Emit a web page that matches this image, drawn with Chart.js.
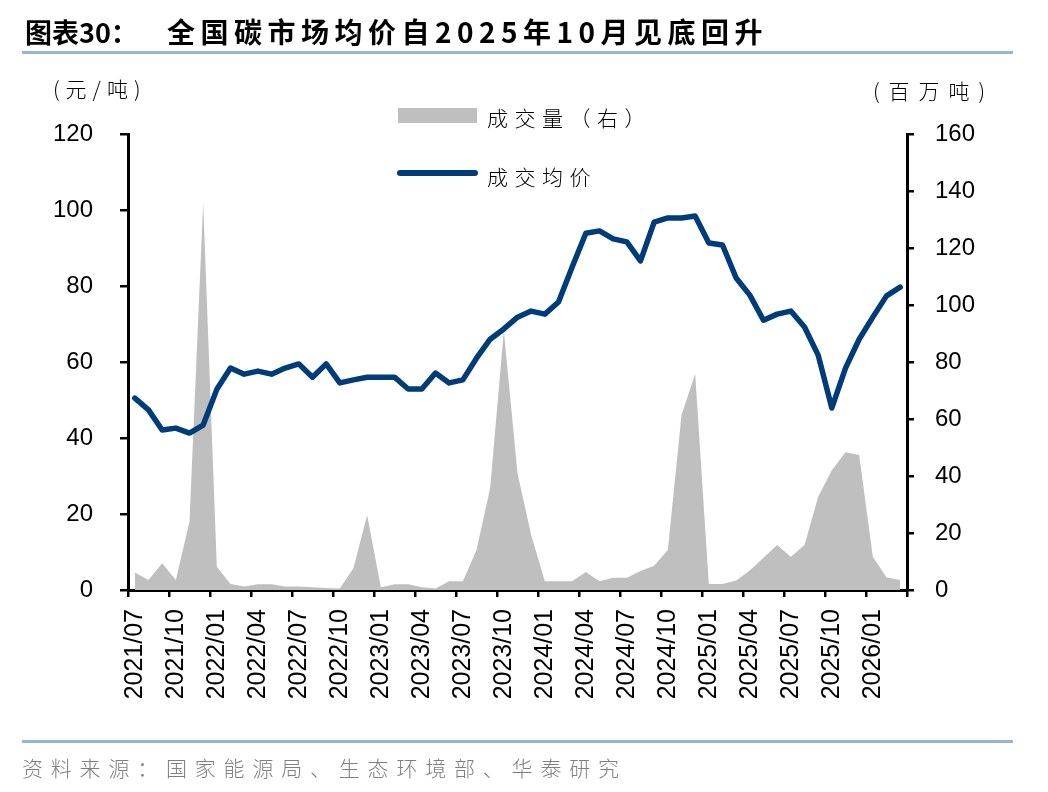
<!DOCTYPE html>
<html>
<head>
<meta charset="utf-8">
<script src="https://cdn.jsdelivr.net/npm/chart.js@4.4.1/dist/chart.umd.min.js"></script>
<style>
  body { margin: 0; background: #fff; }
  #wrap { position: relative; width: 1048px; height: 792px; overflow: hidden;
          font-family: "Noto Sans CJK SC", "Noto Sans", sans-serif; color: #000; }
  canvas { position: absolute; left: 0; top: 0; }
  .t { position: absolute; white-space: nowrap; transform: translateY(-50%); line-height: 1; }
  .rule { position: absolute; left: 22px; width: 991px; height: 3px; background: #98B4D4; }
</style>
</head>
<body>
<div id="wrap">
  <canvas id="myChart" width="1048" height="792"></canvas>

  <div class="t" style="left:25px; top:31px; font-size:27px; font-weight:700;">图表30：</div>
  <div class="t" style="left:167px; top:31px; font-size:28px; font-weight:700; letter-spacing:5.5px;">全国碳市场均价自2025年10月见底回升</div>
  <div class="rule" style="top:51px;"></div>

  <div class="t" style="left:53px; top:88px; font-size:21px; font-weight:300; letter-spacing:6px;">(元/吨)</div>
  <div class="t" style="left:873px; top:90px; font-size:21px; font-weight:300; letter-spacing:9px;">(百万吨)</div>

  <div style="position:absolute; left:398px; top:108px; width:79px; height:15px; background:#BFBFBF;"></div>
  <div class="t" style="left:487px; top:117px; font-size:21px; font-weight:300; letter-spacing:6.5px;">成交量（右）</div>
  <div style="position:absolute; left:397px; top:170px; width:81px; height:6px; border-radius:3px; background:#003B7A;"></div>
  <div class="t" style="left:487px; top:176px; font-size:21px; font-weight:300; letter-spacing:6.5px;">成交均价</div>

  <div class="rule" style="top:740px;"></div>
  <div class="t" style="left:22px; top:767px; font-size:21px; font-weight:300; letter-spacing:7.8px; color:#7F7F7F;">资料来源：国家能源局、生态环境部、华泰研究</div>
</div>

<script>
const months = [
  '2021/07','2021/08','2021/09','2021/10','2021/11','2021/12',
  '2022/01','2022/02','2022/03','2022/04','2022/05','2022/06',
  '2022/07','2022/08','2022/09','2022/10','2022/11','2022/12',
  '2023/01','2023/02','2023/03','2023/04','2023/05','2023/06',
  '2023/07','2023/08','2023/09','2023/10','2023/11','2023/12',
  '2024/01','2024/02','2024/03','2024/04','2024/05','2024/06',
  '2024/07','2024/08','2024/09','2024/10','2024/11','2024/12',
  '2025/01','2025/02','2025/03','2025/04','2025/05','2025/06',
  '2025/07','2025/08','2025/09','2025/10','2025/11','2025/12',
  '2026/01','2026/02','2026/03'
];

// 成交均价 (元/吨), left axis
const avgPrice = [
  50.5, 47.4, 42.1, 42.6, 41.3, 43.4,
  52.8, 58.4, 56.8, 57.6, 56.8, 58.4,
  59.5, 56.0, 59.5, 54.5, 55.3, 56.0,
  56.0, 56.0, 52.9, 52.9, 57.1, 54.5,
  55.3, 61.0, 66.0, 68.7, 71.8, 73.4,
  72.6, 75.8, 85.0, 93.9, 94.5, 92.4,
  91.6, 86.6, 96.8, 97.9, 97.9, 98.4,
  91.3, 90.8, 82.1, 77.6, 71.0, 72.6,
  73.4, 69.2, 61.8, 47.9, 58.4, 66.0,
  71.8, 77.4, 79.7
];

// 成交量 (百万吨), right axis
const volume = [
  6.1, 3.5, 9.4, 3.5, 24, 136,
  8.2, 2.1, 1.2, 2.0, 2.0, 1.2,
  1.2, 1.0, 0.7, 0.5, 7.7, 26.3,
  1.0, 2.0, 2.0, 1.0, 0.5, 3.1,
  3.1, 14, 35.8, 91, 41, 19.3,
  3.1, 3.1, 3.1, 6.3, 3.1, 4.3,
  4.3, 6.7, 8.5, 14, 61.4, 75.8,
  2.1, 2.1, 3.3, 6.8, 11.3, 15.8,
  11.7, 15.8, 32.7, 42, 48.3, 47.4,
  11.7, 4.4, 3.5
];

const leftTicks = [0, 20, 40, 60, 80, 100, 120];
const rightTicks = [0, 20, 40, 60, 80, 100, 120, 140, 160];

const tickFont = { family: '"Liberation Sans", Arial, sans-serif', size: 24 };
const axisColor = '#000';

const chartCtx = document.getElementById('myChart').getContext('2d');

const myChart = new Chart(chartCtx, {
  type: 'line',
  data: {
    labels: months,
    datasets: [
      {
        label: '成交均价',
        data: avgPrice,
        yAxisID: 'y',
        borderColor: '#003B7A',
        borderWidth: 5.5,
        borderCapStyle: 'round',
        borderJoinStyle: 'round',
        pointRadius: 0,
        tension: 0,
        fill: false
      },
      {
        label: '成交量（右）',
        data: volume,
        yAxisID: 'y1',
        borderColor: 'rgba(0,0,0,0)',
        borderWidth: 0,
        backgroundColor: '#BFBFBF',
        pointRadius: 0,
        tension: 0,
        fill: 'origin'
      }
    ]
  },
  options: {
    responsive: false,
    animation: false,
    layout: { padding: { top: 134, left: 0, right: 0, bottom: 0 } },
    plugins: {
      legend: { display: false },
      tooltip: { enabled: false }
    },
    scales: {
      x: {
        z: 1,
        offset: true,
        afterFit: function(scale) { scale.height = 202; },
        grid: {
          offset: true,
          drawOnChartArea: false,
          tickLength: 7,
          lineWidth: 2.5,
          color: function(ctx) {
            if (ctx.index === undefined) return axisColor;
            return ctx.index % 3 === 0 ? axisColor : 'rgba(0,0,0,0)';
          }
        },
        border: { display: true, color: axisColor, width: 3 },
        ticks: {
          autoSkip: false,
          maxRotation: 90,
          minRotation: 90,
          padding: 12,
          color: '#000',
          font: { family: tickFont.family, size: 25 },
          callback: function(value, index) {
            return index % 3 === 0 ? months[index] : '';
          }
        }
      },
      y: {
        z: 1,
        position: 'left',
        min: 0,
        max: 120,
        afterFit: function(scale) { scale.width = 128; },
        afterBuildTicks: function(scale) {
          scale.ticks = leftTicks.map(v => ({ value: v }));
        },
        grid: { drawOnChartArea: false, tickLength: 8, lineWidth: 2.5, color: axisColor },
        border: { display: true, color: axisColor, width: 3 },
        ticks: { padding: 27, color: '#000', font: tickFont }
      },
      y1: {
        z: 1,
        position: 'right',
        min: 0,
        max: 160,
        afterFit: function(scale) { scale.width = 141; },
        afterBuildTicks: function(scale) {
          scale.ticks = rightTicks.map(v => ({ value: v }));
        },
        grid: { drawOnChartArea: false, tickLength: 7, lineWidth: 2.5, color: axisColor },
        border: { display: true, color: axisColor, width: 3 },
        ticks: { padding: 21, color: '#000', font: tickFont }
      }
    }
  }
});
</script>
</body>
</html>
